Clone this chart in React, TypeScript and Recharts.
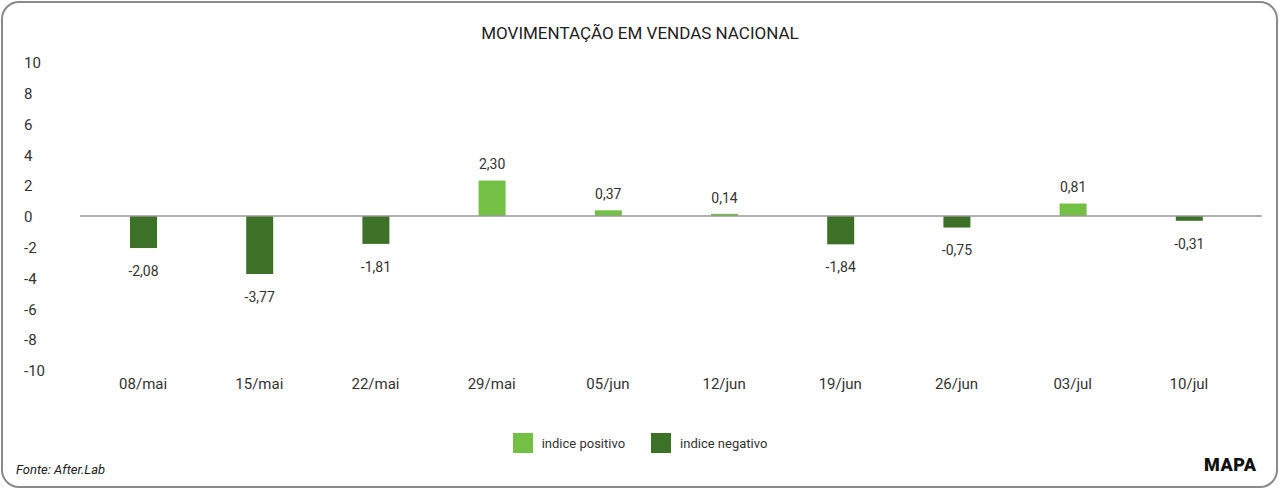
import React from 'react'
import { BarChart, Bar, XAxis, YAxis, ReferenceLine, LabelList, Legend } from 'recharts'

const categories = ['08/mai', '15/mai', '22/mai', '29/mai', '05/jun', '12/jun', '19/jun', '26/jun', '03/jul', '10/jul']
const values = [-2.08, -3.77, -1.81, 2.3, 0.37, 0.14, -1.84, -0.75, 0.81, -0.31]
const yTicks = [-10, -8, -6, -4, -2, 0, 2, 4, 6, 8, 10]
const seriesNames = ['indice positivo', 'indice negativo']

const POS = '#74c044'
const NEG = '#3c7127'
const FONT = 'Roboto, sans-serif'

const data = categories.map((c, i) => ({
  week: c,
  pos: values[i] > 0 ? values[i] : null,
  neg: values[i] < 0 ? values[i] : null,
}))

const fmt = (v: number) => v.toFixed(2).replace('.', ',')

const ValueLabel = (props: any) => {
  const { x, y, width, height, value } = props
  if (value == null) return null
  const top = Math.min(y, y + height)
  const bottom = Math.max(y, y + height)
  const ty = value >= 0 ? top - 16 : bottom + 23
  return (
    <text x={x + width / 2} y={ty} dy="0.35em" textAnchor="middle" fill="#333" fontSize={14} fontFamily={FONT}>
      {fmt(value)}
    </text>
  )
}

const YTick = (props: any) => {
  const { y, payload } = props
  return (
    <text x={24} y={y + 1} dy="0.35em" textAnchor="start" fill="#333" fontSize={15} fontFamily={FONT}>
      {payload.value}
    </text>
  )
}

// legend drawn from the two series in the chart, kept in series order
const LegendBox = (props: any) => {
  const items = [...(props.payload || [])].sort(
    (a: any, b: any) => seriesNames.indexOf(a.value) - seriesNames.indexOf(b.value)
  )
  return (
    <div style={{ display: 'flex', justifyContent: 'center', gap: 26, fontFamily: FONT, fontSize: 13, color: '#333' }}>
      {items.map((p: any) => (
        <div key={p.value} style={{ display: 'flex', alignItems: 'center' }}>
          <span style={{ width: 20, height: 20, background: p.color, marginRight: 9, display: 'inline-block' }} />
          <span>{p.value}</span>
        </div>
      ))}
    </div>
  )
}

export default function App() {
  return (
    <div style={{ position: 'absolute', left: 0, top: 0, width: 1280, height: 489, background: '#fff', fontFamily: FONT }}>
      <div
        style={{
          position: 'absolute', left: 1, top: 1, width: 1273, height: 483,
          border: '2px solid #8a8a8a', borderRadius: 18,
        }}
      />
      <div style={{ position: 'absolute', top: 23, left: 0, width: 1280, textAlign: 'center', fontSize: 17, color: '#222' }}>
        MOVIMENTAÇÃO EM VENDAS NACIONAL
      </div>
      <div style={{ position: 'absolute', left: 0, top: 0 }}>
        <BarChart width={1280} height={430} data={data} margin={{ top: 62, right: 18, left: 0, bottom: 0 }} stackOffset="sign">
          <XAxis
            dataKey="week"
            axisLine={false}
            tickLine={false}
            height={60}
            padding={{ left: 5, right: 15 }}
            tick={{ fill: '#333', fontSize: 15, fontFamily: FONT }}
            interval={0}
          />
          <YAxis width={80} domain={[-10, 10]} ticks={yTicks} axisLine={false} tickLine={false} tick={<YTick />} interval={0} />
          <ReferenceLine y={0} stroke="#999" strokeWidth={1.5} />
          <Bar dataKey="pos" name={seriesNames[0]} stackId="a" fill={POS} barSize={27} isAnimationActive={false}>
            <LabelList dataKey="pos" content={<ValueLabel />} />
          </Bar>
          <Bar dataKey="neg" name={seriesNames[1]} stackId="a" fill={NEG} barSize={27} isAnimationActive={false}>
            <LabelList dataKey="neg" content={<ValueLabel />} />
          </Bar>
          <Legend
            verticalAlign="middle"
            align="center"
            wrapperStyle={{ top: 433, left: 0, width: 1280 }}
            content={<LegendBox />}
          />
        </BarChart>
      </div>
      <div style={{ position: 'absolute', left: 16, top: 462, fontSize: 13, fontStyle: 'italic', color: '#222' }}>
        Fonte: After.Lab
      </div>
      <div style={{ position: 'absolute', left: 1204, top: 454, fontSize: 18, fontWeight: 900, color: '#111', letterSpacing: 0.5 }}>
        MAPA
      </div>
    </div>
  )
}
